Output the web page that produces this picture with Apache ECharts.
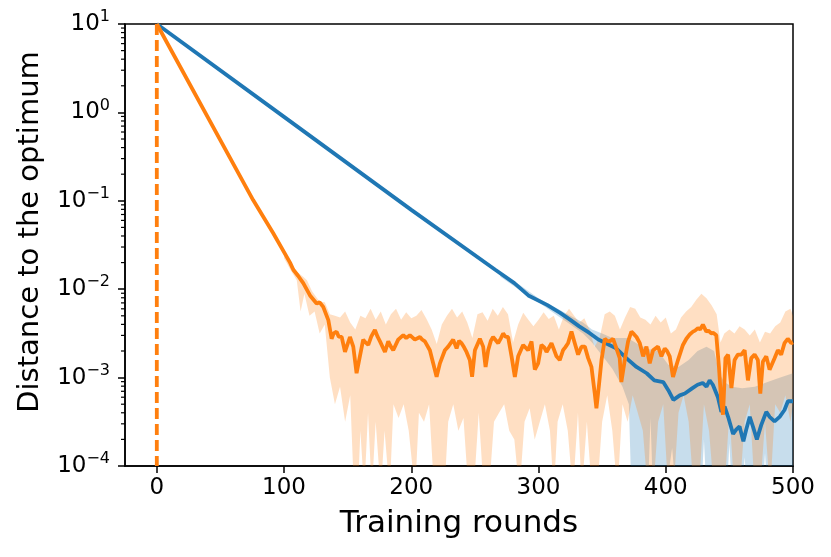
<!DOCTYPE html>
<html>
<head>
<meta charset="utf-8">
<script src="https://cdn.jsdelivr.net/npm/echarts@6/dist/echarts.min.js"></script>
<style>html,body{margin:0;padding:0;background:#fff;}#c{width:831px;height:557px;}</style>
</head>
<body>
<div id="c"></div>
<script>
// ---- data ----
const xTicks = [0, 100, 200, 300, 400, 500];
const yTicks = [1e-4, 1e-3, 1e-2, 1e-1, 1e0, 1e1];
const yMinorTicks = [2e-4,3e-4,4e-4,5e-4,6e-4,7e-4,8e-4,9e-4,2e-3,3e-3,4e-3,5e-3,6e-3,7e-3,8e-3,9e-3,2e-2,3e-2,4e-2,5e-2,6e-2,7e-2,8e-2,9e-2,0.2,0.3,0.4,0.5,0.6,0.7,0.8,0.9,2,3,4,5,6,7,8,9];

const blueLine = [[0,10],[100,0.89],[200,0.079],[266,0.0166],[281,0.0117],[292,0.0085],[307,0.0066],[317,0.0054],[325,0.0045],[332,0.0038],[340,0.0032],[347,0.0027],[353,0.00245],[361,0.00214],[369,0.00166],[377,0.00132],[385,0.00112],[391,0.00093],[398,0.00089],[402,0.00072],[406,0.00056],[411,0.00063],[415,0.00066],[421,0.00076],[425,0.00083],[429,0.00087],[432,0.00079],[434.5,0.00093],[437,0.00083],[441,0.0006],[443.7,0.00041],[446.3,0.00047],[449,0.00036],[452.9,0.00023],[455.5,0.00026],[458,0.00028],[461,0.00019],[463.3,0.00026],[466,0.00036],[468.5,0.00028],[471.6,0.0002],[475,0.00029],[479,0.00041],[481.6,0.00036],[485.5,0.00032],[489.5,0.00036],[493.3,0.00043],[496,0.00054],[500,0.00054]];

const orangeLine = [[0,10],[75.7,0.102],[91.4,0.0432],[104.7,0.02],[107.3,0.0166],[111,0.0142],[115.1,0.0117],[120.4,0.0085],[125.6,0.0069],[128,0.0071],[130.8,0.0063],[134.8,0.00447],[137.4,0.00275],[139,0.00316],[141.3,0.00331],[143,0.0029],[145.3,0.00288],[147.9,0.00195],[151.8,0.00288],[154.4,0.00224],[157,0.00112],[159.6,0.00174],[162.2,0.00269],[164,0.0025],[166.2,0.00234],[168.5,0.0029],[171.4,0.00347],[173.5,0.0029],[175.4,0.00257],[179.3,0.00195],[181.9,0.00257],[183.5,0.0023],[185.8,0.00204],[189.7,0.00269],[193.7,0.00302],[196,0.0028],[198.9,0.00302],[202.8,0.00269],[206.8,0.00288],[208.5,0.0027],[210.7,0.00257],[214.6,0.00204],[217.2,0.00145],[219.9,0.00102],[222.5,0.00145],[226.4,0.00204],[229,0.00224],[232.9,0.00269],[235.6,0.00214],[237.5,0.0026],[239.5,0.00245],[241.5,0.0022],[243.4,0.00195],[246,0.00158],[247.8,0.00102],[250,0.00204],[253.9,0.00275],[256.5,0.00224],[258.4,0.00132],[260.4,0.00204],[262.5,0.0026],[264.3,0.00288],[268.3,0.00245],[270.5,0.0028],[272.2,0.00316],[274,0.0029],[276.1,0.00288],[278.8,0.00174],[281.4,0.00102],[284,0.00174],[287.9,0.00234],[291.8,0.00204],[294.5,0.00257],[297.1,0.00123],[299.7,0.00145],[302.3,0.00234],[304.5,0.0022],[306.3,0.00195],[310.2,0.00245],[312,0.0021],[314.1,0.00174],[316.7,0.00158],[319.3,0.00204],[321,0.0022],[323.2,0.00245],[325.9,0.00331],[328.5,0.00245],[331.1,0.00182],[333.8,0.00224],[336.4,0.00224],[339,0.00166],[341.6,0.00132],[344.2,0.00066],[345.5,0.00045],[347.6,0.00085],[349.5,0.00158],[352.1,0.00275],[354,0.0026],[356,0.00257],[358.6,0.00275],[361.7,0.00204],[363.8,0.00166],[365.1,0.00089],[367.8,0.00158],[370.4,0.00257],[373,0.00331],[375,0.0031],[377,0.00288],[379.6,0.00245],[382.2,0.00174],[384.8,0.00224],[387.4,0.00145],[390,0.00204],[393.9,0.00224],[396.6,0.00174],[399.2,0.00214],[401,0.002],[403.1,0.00174],[405.7,0.00102],[409.6,0.00158],[413.5,0.00234],[416.2,0.00275],[419,0.0031],[421.4,0.00331],[423,0.0034],[425.3,0.00363],[427,0.0035],[429.2,0.00398],[431.9,0.00331],[433.5,0.0034],[435.8,0.00316],[437.5,0.0032],[439.7,0.00302],[441.8,0.00132],[443.7,0.00051],[445,0.00038],[446.9,0.00166],[449,0.00182],[451.6,0.00076],[454.1,0.00158],[456.7,0.00182],[459.4,0.00182],[462,0.00204],[464.6,0.00093],[467.2,0.00166],[469.8,0.00182],[472.4,0.00158],[474.3,0.00066],[476.3,0.00151],[479,0.00174],[481.6,0.00123],[485.5,0.00166],[488.1,0.00204],[490.7,0.00182],[493.3,0.00245],[495.9,0.00275],[498.6,0.00245],[500,0.00251]];

const orangeUpper = [[100,0.025],[105,0.02],[110,0.0158],[115,0.0138],[118,0.0126],[122,0.0095],[128,0.0072],[132,0.0071],[136,0.0052],[140,0.005],[144,0.0048],[148,0.0056],[152,0.0042],[156,0.0035],[160,0.005],[164,0.0047],[168,0.006],[172,0.0045],[176,0.0056],[180,0.004],[184,0.0052],[188,0.006],[192,0.0045],[196,0.0055],[200,0.0047],[204,0.005],[208,0.0058],[212,0.0046],[216,0.0035],[220,0.0024],[224,0.004],[228,0.005],[232,0.006],[236,0.0048],[240,0.0056],[244,0.0042],[248,0.0028],[252,0.0052],[256,0.0055],[260,0.0044],[264,0.006],[268,0.005],[272,0.0063],[276,0.0052],[280,0.0025],[284,0.004],[288,0.0054],[292,0.0045],[296,0.0038],[300,0.0045],[304,0.0055],[308,0.0046],[312,0.005],[316,0.0035],[320,0.005],[324,0.006],[328,0.005],[332,0.0042],[336,0.0047],[340,0.0035],[344,0.00224],[348,0.0028],[352,0.0052],[356,0.0056],[360,0.005],[364,0.0035],[368,0.0048],[372,0.0063],[376,0.006],[380,0.0048],[384,0.0045],[388,0.004],[392,0.005],[396,0.0042],[400,0.0048],[404,0.00316],[408,0.0035],[412,0.0048],[416,0.0056],[420,0.0063],[424,0.0076],[428,0.0089],[432,0.0079],[436,0.0066],[440,0.0052],[443,0.0025],[446,0.00316],[450,0.0035],[454,0.00316],[458,0.0038],[462,0.0035],[466,0.003],[470,0.0035],[474,0.0025],[478,0.0033],[482,0.00316],[486,0.0038],[490,0.0042],[494,0.0056],[498,0.006],[500,0.005]];

const orangeLower = [[100,0.0224],[105,0.0166],[110,0.0126],[113,0.0056],[116,0.0089],[120,0.005],[124,0.0056],[128,0.00316],[132,0.004],[136,0.001],[140,0.0005],[144,0.00079],[148,0.000316],[152,0.00063],[155,5e-5],[158,5e-5],[160,0.00025],[163,5e-5],[166,0.0004],[169,5e-5],[172,0.000316],[176,5e-5],[179,0.00025],[183,5e-5],[186,0.0005],[190,0.00035],[194,0.0005],[198,0.00025],[203,5e-5],[206,0.0004],[210,0.000316],[214,0.0005],[218,5e-5],[222,5e-5],[226,5e-5],[229,0.000316],[233,0.0005],[237,0.00025],[241,0.00035],[245,5e-5],[249,5e-5],[253,0.0004],[257,5e-5],[261,5e-5],[265,0.000316],[269,0.0004],[273,0.0005],[277,0.00025],[281,0.0002],[285,5e-5],[289,0.000316],[293,0.00045],[297,0.0002],[301,0.000316],[305,0.0005],[309,0.00025],[312,5e-5],[315,0.000316],[319,0.0005],[323,0.00025],[327,5e-5],[331,0.0004],[334,5e-5],[338,0.000316],[342,5e-5],[346,5e-5],[350,0.000316],[354,0.00063],[358,0.00025],[362,5e-5],[366,0.0005],[370,0.000316],[374,0.00063],[378,0.0004],[382,0.00025],[386,5e-5],[390,5e-5],[394,0.000316],[398,0.0005],[402,5e-5],[406,5e-5],[410,0.0004],[414,0.00063],[418,0.000316],[422,5e-5],[426,5e-5],[430,0.0005],[434,0.00025],[438,5e-5],[442,5e-5],[446,5e-5],[450,0.0004],[454,5e-5],[458,5e-5],[462,0.000316],[466,0.0005],[470,5e-5],[474,5e-5],[478,0.000316],[482,5e-5],[486,0.0005],[490,0.0004],[494,0.00063],[498,0.000316],[500,0.0005]];

const blueUpper = [[270,0.0151],[285,0.0112],[300,0.0079],[315,0.006],[325,0.005],[335,0.0042],[342,0.0035],[350,0.00316],[358,0.0028],[365,0.0028],[370,0.0028],[378,0.0024],[386,0.0021],[394,0.002],[402,0.0014],[410,0.00132],[418,0.00158],[425,0.002],[432,0.00224],[438,0.002],[442,0.00112],[446,0.00089],[452,0.00079],[460,0.00076],[470,0.00079],[480,0.00089],[490,0.001],[500,0.00112]];

const blueLower = [[270,0.0138],[285,0.0098],[300,0.0071],[315,0.005],[325,0.004],[335,0.00316],[342,0.0025],[350,0.00178],[358,0.00126],[366,0.00079],[371,0.0005],[373,5e-5],[386,5e-5],[388,0.00035],[390,5e-5],[400,5e-5],[405,0.00016],[408,5e-5],[428,5e-5],[430,0.0002],[432,5e-5],[448,5e-5],[450,0.00018],[452,5e-5],[460,5e-5],[462,0.000126],[464,5e-5],[476,5e-5],[478,0.00014],[480,5e-5],[500,5e-5]];

const vLine = [[0,10],[0,1e-4]];

const BLUE = '#1f77b4', ORANGE = '#ff7f0e';
const FONT = 'DejaVu Sans';

function bandSeries(upper, lower, color) {
  return {
    type: 'custom', silent: true, clip: true,
    data: [[0, 1]],
    encode: { x: 0, y: 1 },
    renderItem: function (params, api) {
      const pts = [];
      upper.forEach(p => pts.push(api.coord(p)));
      for (let i = lower.length - 1; i >= 0; i--) pts.push(api.coord(lower[i]));
      const cs = params.coordSys;
      return {
        type: 'group',
        clipPath: { type: 'rect', shape: { x: cs.x, y: cs.y, width: cs.width, height: cs.height } },
        children: [{ type: 'polygon', shape: { points: pts }, style: { fill: color } }]
      };
    }
  };
}

function yFmt(v) {
  const e = Math.round(Math.log10(v));
  const s = String(e).replace('-', '\u2212');
  return '{b|10}{s|' + s + '}';
}

const chart = echarts.init(document.getElementById('c'), null, { renderer: 'canvas' });
chart.setOption({
  animation: false,
  backgroundColor: '#fff',
  grid: { left: 125, right: 38, top: 24, bottom: 91, show: true, borderColor: '#000', borderWidth: 1.5, backgroundColor: 'transparent' },
  xAxis: {
    type: 'value', min: -25, max: 500,
    name: 'Training rounds', nameLocation: 'middle', nameGap: 42,
    nameTextStyle: { fontSize: 31, color: '#000', fontFamily: FONT },
    axisLine: { show: true, onZero: false, lineStyle: { color: '#000', width: 1.5 } },
    axisTick: { show: true, inside: false, length: 7, lineStyle: { color: '#000', width: 1.5 }, customValues: xTicks },
    axisLabel: { show: true, margin: 11, fontSize: 23, color: '#000', fontFamily: FONT, customValues: xTicks },
    splitLine: { show: false }
  },
  yAxis: {
    type: 'log', logBase: 10, min: 1e-4, max: 10, interval: 1,
    name: 'Distance to the optimum', nameLocation: 'middle', nameGap: 80, nameRotate: 90,
    nameTextStyle: { fontSize: 29, color: '#000', fontFamily: FONT, padding: [0, 0, 0, 26] },
    axisLine: { show: true, onZero: false, lineStyle: { color: '#000', width: 1.5 } },
    axisTick: { show: true, inside: false, length: 7, lineStyle: { color: '#000', width: 1.5 } },
    axisLabel: {
      show: true, margin: 15, color: '#000', fontFamily: FONT,
      formatter: yFmt,
      rich: {
        b: { fontSize: 23, fontFamily: FONT, color: '#000', lineHeight: 30 },
        s: { fontSize: 16, fontFamily: FONT, color: '#000', verticalAlign: 'top', lineHeight: 18 }
      }
    },
    minorTick: { show: false },
    splitLine: { show: false }
  },
  series: [
    bandSeries(blueUpper, blueLower, 'rgba(31,119,180,0.25)'),
    { type: 'line', data: blueLine, showSymbol: false, symbol: 'none', clip: true, lineStyle: { color: BLUE, width: 3.8 }, z: 3 },
    bandSeries(orangeUpper, orangeLower, 'rgba(255,127,14,0.25)'),
    { type: 'line', data: orangeLine, showSymbol: false, symbol: 'none', clip: true, lineStyle: { color: ORANGE, width: 3.8 }, z: 4 },
    { type: 'line', data: vLine, showSymbol: false, symbol: 'none', clip: true, lineStyle: { color: ORANGE, width: 3.8, type: [11, 5] }, z: 4 },
    {
      type: 'custom', silent: true,
      data: yMinorTicks.map(v => [-25, v]),
      encode: { x: 0, y: 1 },
      renderItem: function (params, api) {
        const p = api.coord([-25, api.value(1)]);
        return { type: 'line', shape: { x1: p[0] - 4, y1: p[1], x2: p[0], y2: p[1] }, style: { stroke: '#000', lineWidth: 1.2 } };
      }
    }
  ]
});
</script>
</body>
</html>
